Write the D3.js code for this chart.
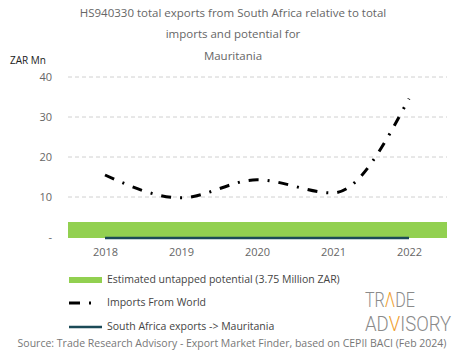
<!DOCTYPE html>
<html><head><meta charset="utf-8">
<script src="https://cdn.jsdelivr.net/npm/d3@7"></script>
<style>body{margin:0;background:#fff}svg{display:block}text{font-family:"Open Sans",sans-serif}</style>
</head><body><svg id="c" width="465" height="359"></svg>
<script>
const years = ["2018","2019","2020","2021","2022"];
const importsWorld = [15.5, 9.8, 14.3, 11.0, 34.6];
const saExports = [0, 0, 0, 0, 0];
const potential = 3.75;
const yTicks = [0, 10, 20, 30, 40];
const titleLines = ["HS940330 total exports from South Africa relative to total","imports and potential for","Mauritania"];

const svg = d3.select("#c");
const x = d3.scalePoint().domain(years).range([67, 447]).padding(0.5);
const y = d3.scaleLinear().domain([0, 40]).range([237, 77]);

// title
svg.append("g").selectAll("text").data(titleLines).join("text")
  .attr("x", 233).attr("y", (d,i)=>[17,38,60][i]).attr("text-anchor","middle")
  .attr("fill","#666").style("font-size","11.5px").text(d=>d);
svg.append("text").attr("x",10).attr("y",64).attr("fill","#222").style("font-size","10px").text("ZAR Mn");

// grid
svg.append("g").selectAll("line").data(yTicks.filter(d=>d>0)).join("line")
  .attr("x1",68).attr("x2",447).attr("y1",d=>y(d)).attr("y2",d=>y(d))
  .attr("stroke","#d0d0d0").attr("stroke-dasharray","4,3");

// y axis
const ya = svg.append("g").attr("transform","translate(52,0)")
  .call(d3.axisLeft(y).tickValues(yTicks).tickSize(0).tickPadding(0).tickFormat(d=>d===0?"-":d));
ya.select(".domain").remove();
ya.selectAll("text").attr("fill","#666").style("font-size","11px").style("font-family","'Open Sans',sans-serif");

// x axis
const xa = svg.append("g").attr("transform","translate(0,246)")
  .call(d3.axisBottom(x).tickSize(0).tickPadding(0));
xa.select(".domain").remove();
xa.selectAll("text").attr("dy","0.9em").attr("fill","#666").style("font-size","11px").style("font-family","'Open Sans',sans-serif");

// potential bar
svg.append("rect").attr("x",68).attr("width",379).attr("y",y(potential)).attr("height",y(0)-y(potential)+1)
  .attr("fill","#92d050");

// SA exports line
svg.append("path").datum(saExports)
  .attr("d", d3.line().x((d,i)=>x(years[i])).y(d=>y(d)+1))
  .attr("fill","none").attr("stroke","#1b4a57").attr("stroke-width",2.5);

// imports line
svg.append("path").datum(importsWorld)
  .attr("d", d3.line().x((d,i)=>x(years[i])).y(d=>y(d)).curve(d3.curveMonotoneX))
  .attr("fill","none").attr("stroke","#000").attr("stroke-width",3).attr("stroke-dasharray","10,9,2,9");

// legend
const lg = svg.append("g");
lg.append("rect").attr("x",69).attr("y",277).attr("width",33).attr("height",6).attr("fill","#92d050");
lg.append("text").attr("x",107).attr("y",283).text("Estimated untapped potential (3.75 Million ZAR)");
lg.append("line").attr("x1",69).attr("x2",80).attr("y1",303).attr("y2",303).attr("stroke","#000").attr("stroke-width",3);
lg.append("line").attr("x1",89).attr("x2",91).attr("y1",303).attr("y2",303).attr("stroke","#000").attr("stroke-width",3);
lg.append("text").attr("x",107).attr("y",306).text("Imports From World");
lg.append("line").attr("x1",69).attr("x2",102).attr("y1",327).attr("y2",327).attr("stroke","#1b4a57").attr("stroke-width",2.5);
lg.append("text").attr("x",107).attr("y",330).text("South Africa exports -> Mauritania");
lg.selectAll("text").attr("fill","#444").style("font-size","10.5px");

// logo
function logoLine(parts, yPos, targetW){
  const g = svg.append("g");
  const t = g.append("text").attr("x",0).attr("y",0)
    .style("font-family","Roboto,sans-serif").style("font-weight","300").style("font-size","20px").attr("fill","#8a8a8a");
  parts.forEach(p=>t.append("tspan").attr("fill",p[1]?"#f0a030":null).text(p[0]));
  const w = t.node().getBBox().width;
  g.attr("transform",`translate(365,${yPos}) scale(${targetW/w},1)`);
}
logoLine([["TR"],["Λ",1],["DE"]], 307, 50);
logoLine([["AD"],["V",1],["ISORY"]], 331, 86);

// source
svg.append("text").attr("x",232).attr("y",347).attr("text-anchor","middle").attr("fill","#777")
  .style("font-size","10.5px").text("Source: Trade Research Advisory - Export Market Finder, based on CEPII BACI (Feb 2024)");
</script></body></html>
